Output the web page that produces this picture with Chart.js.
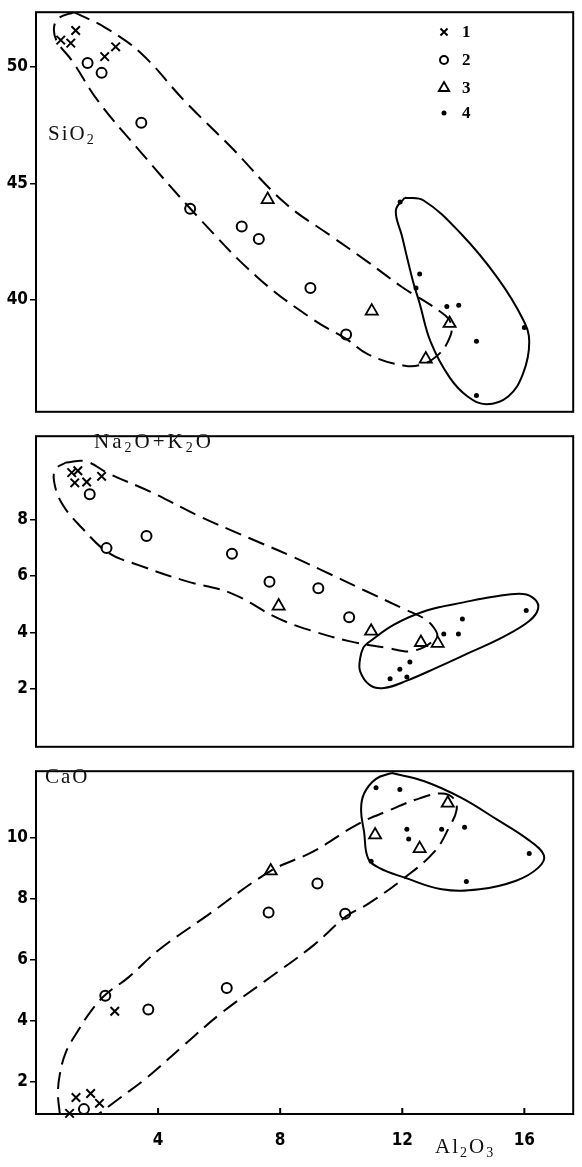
<!DOCTYPE html>
<html lang="en">
<head>
<meta charset="UTF-8" />
<title>SiO2, Na2O+K2O, CaO vs Al2O3</title>
<script src="https://cdn.jsdelivr.net/npm/chart.js"></script>
<style>
  body { margin: 0; background: #fff; }
  #wrap { position: relative; width: 582px; height: 1167px; }
  canvas { position: absolute; left: 0; }
  .lbl {
    position: absolute;
    font-family: 'Liberation Serif', 'DejaVu Serif', serif;
    font-size: 21px;
    line-height: 21px;
    color: #111;
    letter-spacing: 2px;
    white-space: nowrap;
  }
  .lbl span { font-size: 14px; position: relative; top: 4px; }
</style>
</head>
<body>
<div id="wrap">
  <canvas id="c1" width="582" height="424" style="top:0"></canvas>
  <canvas id="c2" width="582" height="335" style="top:424px"></canvas>
  <canvas id="c3" width="582" height="408" style="top:759px"></canvas>
  <div class="lbl" style="left:48px;top:123px">SiO<span>2</span></div>
  <div class="lbl" style="left:94px;top:431px;letter-spacing:3px">Na<span>2</span>O+K<span>2</span>O</div>
  <div class="lbl" style="left:45px;top:766px">CaO</div>
  <div class="lbl" style="left:435px;top:1136px">Al<span>2</span>O<span>3</span></div>
</div>
<script>
// legend labels
const groups = ['1', '2', '3', '4'];

// x axis (Al2O3)
const alTicks = [4, 8, 12, 16];

// SiO2 panel
const siTicks = [40, 45, 50];
const siCross = [[0.81, 51.16], [1.14, 51.03], [1.30, 51.57], [2.25, 50.45], [2.61, 50.87]];
const siCircle = [[1.69, 50.17], [2.15, 49.75], [3.45, 47.6], [5.05, 43.9], [6.74, 43.14], [7.30, 42.6], [8.99, 40.5], [10.16, 38.5]];
const siTriangle = [[7.59, 44.3], [11.0, 39.5], [13.55, 38.97], [12.77, 37.44]];
const siDot = [[11.93, 44.2], [12.57, 41.1], [12.45, 40.5], [13.46, 39.7], [13.85, 39.75], [14.43, 38.2], [16.0, 38.8], [14.43, 35.87]];
const siDashEnv = [[1.24, 52.36], [2.28, 51.69], [3.45, 50.58], [4.89, 48.51], [6.38, 46.57], [8.14, 44.17], [9.67, 42.73], [10.88, 41.61], [11.99, 40.54], [13.42, 39.30], [13.62, 38.80], [13.49, 38.18], [13.19, 37.64], [12.70, 37.23], [12.08, 37.15], [10.88, 37.64], [10.16, 38.31], [9.09, 39.13], [7.26, 40.95], [5.31, 43.55], [3.36, 46.45], [2.05, 48.51], [1.17, 50.29], [0.68, 51.12], [0.59, 51.69], [0.75, 52.11], [1.24, 52.36]];
const siSolidEnv = [[12.08, 44.38], [12.70, 44.26], [13.91, 42.85], [15.11, 40.95], [15.96, 39.13], [16.16, 38.18], [15.96, 36.82], [15.47, 35.83], [14.76, 35.50], [14.14, 35.83], [13.55, 36.65], [12.93, 38.18], [12.57, 39.83], [12.35, 40.79], [11.99, 42.73], [11.79, 43.84], [12.08, 44.38]];

// Na2O+K2O panel
const naTicks = [2, 4, 6, 8];
const naCross = [[1.17, 9.65], [1.37, 9.72], [1.27, 9.29], [1.66, 9.32], [2.15, 9.52]];
const naCircle = [[1.76, 8.89], [3.62, 7.41], [2.31, 6.98], [6.42, 6.78], [7.65, 5.79], [9.25, 5.56], [10.26, 4.53]];
const naTriangle = [[7.95, 4.93], [10.98, 4.04], [12.61, 3.64], [13.16, 3.61]];
const naDot = [[13.36, 3.94], [13.84, 3.94], [13.97, 4.47], [16.06, 4.77], [12.25, 2.95], [11.92, 2.69], [11.60, 2.36], [12.15, 2.42]];
const naDashEnv = [[0.98, 10.01], [1.63, 10.05], [2.38, 9.62], [3.78, 8.96], [5.31, 8.13], [7.04, 7.31], [8.34, 6.71], [9.32, 6.22], [10.75, 5.49], [12.05, 4.83], [12.70, 4.50], [13.03, 4.17], [13.13, 3.84], [12.38, 3.35], [11.50, 3.45], [10.29, 3.68], [8.99, 4.07], [7.92, 4.50], [6.38, 5.39], [4.89, 5.82], [3.36, 6.38], [2.38, 6.81], [1.50, 7.70], [0.85, 8.56], [0.59, 9.35], [0.65, 9.78], [0.98, 10.01]];
const naSolidEnv = [[10.85, 3.61], [11.73, 4.27], [12.80, 4.77], [14.01, 5.06], [14.98, 5.26], [15.96, 5.36], [16.35, 5.16], [16.45, 4.83], [16.16, 4.40], [15.31, 3.84], [14.20, 3.28], [13.13, 2.75], [12.15, 2.29], [11.40, 2.03], [10.94, 2.13], [10.62, 2.62], [10.62, 3.08], [10.72, 3.45], [10.85, 3.61]];

// CaO panel
const caTicks = [2, 4, 6, 8, 10];
const caCross = [[1.10, 0.97], [1.31, 1.49], [1.79, 1.62], [2.08, 1.30], [2.58, 4.32]];
const caCircle = [[1.57, 1.11], [2.27, 4.83], [3.68, 4.38], [6.25, 5.08], [7.62, 7.56], [9.22, 8.51], [10.13, 7.52]];
const caTriangle = [[7.69, 8.92], [11.11, 10.10], [12.57, 9.65], [13.49, 11.14]];
const caDot = [[11.14, 11.65], [11.92, 11.59], [12.15, 10.29], [12.21, 9.97], [13.29, 10.29], [14.04, 10.35], [10.98, 9.24], [16.16, 9.49], [14.10, 8.57]];
const caDashEnv = [[0.78, 0.95], [0.72, 1.62], [0.78, 2.25], [0.98, 2.98], [1.34, 3.62], [1.82, 4.35], [2.31, 4.89], [3.03, 5.43], [4.01, 6.32], [5.57, 7.43], [7.69, 8.92], [9.09, 9.56], [10.52, 10.44], [11.60, 10.92], [12.57, 11.30], [13.29, 11.46], [13.68, 11.30], [13.78, 10.92], [13.55, 10.38], [13.06, 9.56], [12.08, 8.70], [10.88, 7.84], [10.16, 7.43], [9.09, 6.48], [7.49, 5.30], [6.06, 4.25], [4.85, 3.21], [3.62, 2.13], [2.77, 1.49], [2.05, 0.95]];
const caSolidEnv = [[11.66, 12.13], [12.70, 11.87], [13.91, 11.33], [15.11, 10.60], [16.09, 9.97], [16.64, 9.43], [16.45, 9.02], [15.73, 8.60], [14.53, 8.32], [13.29, 8.32], [12.08, 8.70], [11.24, 9.02], [10.88, 9.33], [10.75, 10.19], [10.65, 10.92], [10.75, 11.46], [11.14, 11.94], [11.66, 12.13]];

const toPts = arr => arr.map(([x, y]) => ({ x, y }));

const markerStyles = [
  { pointStyle: 'crossRot', pointRadius: 6, pointBorderWidth: 2, pointBackgroundColor: '#000' },
  { pointStyle: 'circle', pointRadius: 5, pointBorderWidth: 2, pointBackgroundColor: '#fff' },
  { pointStyle: 'triangle', pointRadius: 7, pointBorderWidth: 1.8, pointBackgroundColor: '#fff' },
  { pointStyle: 'circle', pointRadius: 2.5, pointBorderWidth: 0, pointBackgroundColor: '#000' }
];

function markers(i, arr) {
  return Object.assign({
    label: groups[i],
    data: toPts(arr),
    pointBorderColor: '#000',
    showLine: false,
    clip: false
  }, markerStyles[i]);
}

function envelope(arr, dashed) {
  return {
    label: '',
    data: toPts(arr),
    showLine: true,
    pointRadius: 0,
    borderColor: '#000',
    borderWidth: 2,
    borderDash: dashed ? [17, 8] : [],
    tension: 0.4,
    fill: false
  };
}

const tickFont = { family: "'DejaVu Sans Condensed', 'DejaVu Sans', sans-serif", weight: 'bold', size: 17 };

// frame, inside x ticks, legend
const framePlugin = {
  id: 'frame',
  afterDraw(chart, args, opts) {
    const { ctx, chartArea: a } = chart;
    ctx.save();
    ctx.strokeStyle = '#000';
    ctx.lineWidth = 2;
    ctx.strokeRect(a.left, a.top, a.right - a.left, a.bottom - a.top);
    if (opts.innerTicks) {
      const s = chart.scales.x;
      s.ticks.forEach(t => {
        const px = s.getPixelForValue(t.value);
        ctx.beginPath();
        ctx.moveTo(px, a.bottom);
        ctx.lineTo(px, a.bottom - 6);
        ctx.stroke();
      });
    }
    if (opts.legend) {
      const rows = [32, 60, 88, 113];
      ctx.font = "bold 17px 'Liberation Serif', serif";
      ctx.textBaseline = 'middle';
      for (let i = 0; i < 4; i++) {
        const st = markerStyles[i];
        ctx.strokeStyle = '#000';
        ctx.fillStyle = st.pointBackgroundColor;
        ctx.lineWidth = st.pointBorderWidth;
        Chart.helpers.drawPoint(ctx, {
          pointStyle: st.pointStyle,
          radius: i === 3 ? 2.5 : st.pointRadius - 1,
          borderWidth: st.pointBorderWidth,
          rotation: 0
        }, 444, rows[i]);
        ctx.fillStyle = '#000';
        ctx.fillText(groups[i], 462, rows[i] + 1);
      }
    }
    ctx.restore();
  }
};

function makePanel(id, datasets, o) {
  new Chart(document.getElementById(id), {
    type: 'scatter',
    data: { datasets },
    options: {
      responsive: false,
      animation: false,
      events: [],
      layout: { padding: { left: 0, right: 4, top: o.padTop, bottom: o.padBottom } },
      plugins: {
        legend: { display: false },
        tooltip: { enabled: false },
        frame: { innerTicks: o.showX, legend: o.legend }
      },
      scales: {
        x: {
          type: 'linear',
          min: 0,
          max: 17.6,
          display: o.showX,
          border: { display: false },
          grid: { display: false },
          ticks: { font: tickFont, color: '#000', padding: 8 },
          afterBuildTicks: s => { s.ticks = alTicks.map(v => ({ value: v })); },
          afterFit: s => { if (o.showX) s.height = 53; }
        },
        y: {
          type: 'linear',
          min: o.yMin,
          max: o.yMax,
          border: { display: false },
          grid: { drawOnChartArea: false, drawTicks: true, tickLength: 6, color: '#000', lineWidth: 1.5 },
          ticks: { font: tickFont, color: '#000', padding: 2 },
          afterBuildTicks: s => { s.ticks = o.yTicks.map(v => ({ value: v })); },
          afterFit: s => { s.width = 36; }
        }
      }
    },
    plugins: [framePlugin]
  });
}

makePanel('c1', [
  envelope(siDashEnv, true), envelope(siSolidEnv, false),
  markers(0, siCross), markers(1, siCircle), markers(2, siTriangle), markers(3, siDot)
], { yMin: 35.17, yMax: 52.36, yTicks: siTicks, showX: false, legend: true, padTop: 7, padBottom: 1 });

makePanel('c2', [
  envelope(naDashEnv, true), envelope(naSolidEnv, false),
  markers(0, naCross), markers(1, naCircle), markers(2, naTriangle), markers(3, naDot)
], { yMin: -0.05, yMax: 10.94, yTicks: naTicks, showX: false, legend: false, padTop: 1, padBottom: 1 });

makePanel('c3', [
  envelope(caDashEnv, true), envelope(caSolidEnv, false),
  markers(0, caCross), markers(1, caCircle), markers(2, caTriangle), markers(3, caDot)
], { yMin: 0.95, yMax: 12.19, yTicks: caTicks, showX: true, legend: false, padTop: 1, padBottom: 0 });
</script>
</body>
</html>
